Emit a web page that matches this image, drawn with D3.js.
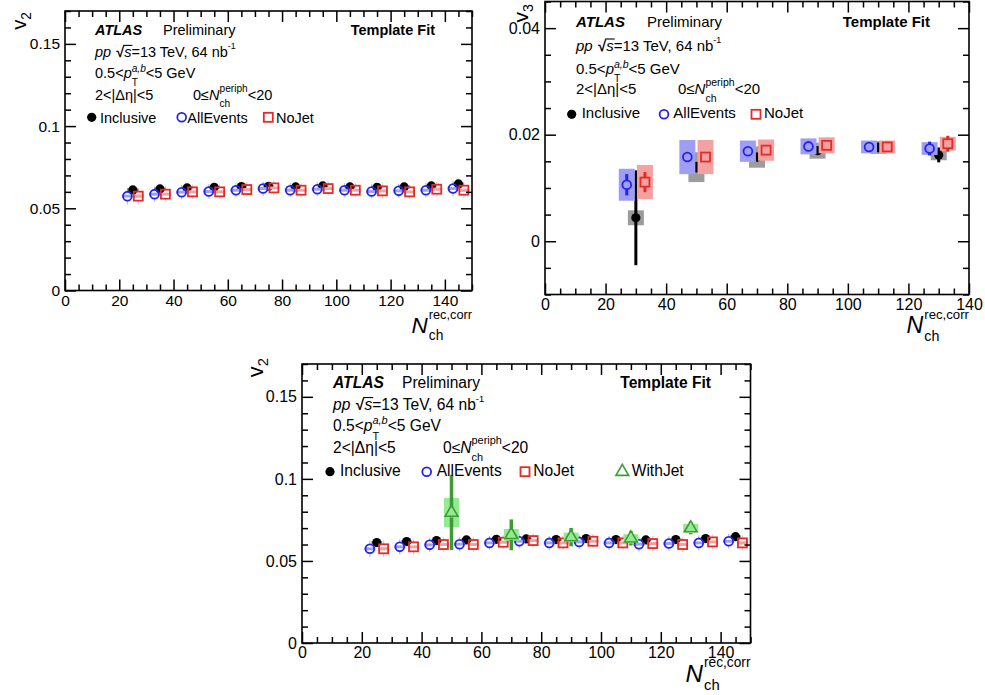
<!DOCTYPE html>
<html>
<head>
<meta charset="utf-8">
<script src="https://cdn.jsdelivr.net/npm/d3@7"></script>
<style>
  body { margin: 0; background: #fff; }
  svg { display: block; }
  text { font-family: "Liberation Sans", Arial, Helvetica, sans-serif; }
</style>
</head>
<body>
<div id="chart"></div>
<script>
// Data ------------------------------------------------------------------------------------------------------------
const nchV2 = [25, 35, 45, 55, 65, 75, 85, 95, 105, 115, 125, 135, 145];
const inclusiveV2 = [0.0612, 0.0618, 0.0624, 0.0628, 0.0632, 0.0634, 0.0630, 0.0636, 0.0630, 0.0628, 0.0630, 0.0636, 0.0648];
const inclusiveV2Stat = [0.0015, 0.0013, 0.0012, 0.0012, 0.0011, 0.0011, 0.0011, 0.0011, 0.0011, 0.0011, 0.0012, 0.0012, 0.0013];
const inclusiveV2Sys = [0.0009, 0.0008, 0.0008, 0.0008, 0.0008, 0.0008, 0.0008, 0.0008, 0.0008, 0.0008, 0.0008, 0.0008, 0.0009];
const allEventsV2 = [0.0574, 0.0586, 0.0598, 0.0602, 0.0610, 0.0620, 0.0610, 0.0616, 0.0610, 0.0602, 0.0606, 0.0610, 0.0620];
const allEventsV2Stat = [0.0050, 0.0046, 0.0044, 0.0044, 0.0043, 0.0043, 0.0043, 0.0043, 0.0043, 0.0044, 0.0044, 0.0045, 0.0046];
const allEventsV2Sys = [0.0009, 0.0009, 0.0009, 0.0009, 0.0009, 0.0009, 0.0009, 0.0009, 0.0009, 0.0009, 0.0009, 0.0009, 0.0009];
const noJetV2 = [0.0574, 0.0586, 0.0600, 0.0600, 0.0614, 0.0624, 0.0610, 0.0620, 0.0610, 0.0606, 0.0600, 0.0616, 0.0610];
const noJetV2Stat = [0.0050, 0.0046, 0.0044, 0.0044, 0.0043, 0.0043, 0.0043, 0.0043, 0.0043, 0.0044, 0.0044, 0.0045, 0.0046];
const noJetV2Sys = [0.0010, 0.0009, 0.0009, 0.0009, 0.0009, 0.0009, 0.0009, 0.0009, 0.0009, 0.0009, 0.0009, 0.0009, 0.0010];

const nchWithJet = [50, 70, 90, 110, 130];
const withJetV2 = [0.0795, 0.0659, 0.0645, 0.0638, 0.0700];
const withJetV2Stat = [0.0229, 0.0094, 0.0056, 0.0044, 0.0038];
const withJetV2Sys = [0.0088, 0.0036, 0.0028, 0.0025, 0.0026];

const nchV3 = [30, 50, 70, 90, 110, 130];
const inclusiveV3 = [0.0044, 0.0139, 0.0158, 0.0170, 0.0176, 0.0162];
const inclusiveV3Stat = [0.0089, 0.0010, 0.0008, 0.0006, 0.0009, 0.0014];
const inclusiveV3Sys = [0.0014, 0.0028, 0.0020, 0.0015, 0.0012, 0.0010];
const allEventsV3 = [0.0106, 0.0158, 0.0169, 0.0178, 0.0177, 0.0174];
const allEventsV3Stat = [0.0020, 0.0004, 0.0004, 0.0003, 0.0003, 0.0013];
const allEventsV3Sys = [0.0030, 0.0032, 0.0020, 0.0015, 0.0012, 0.0012];
const noJetV3 = [0.0111, 0.0158, 0.0171, 0.0180, 0.0177, 0.0183];
const noJetV3Stat = [0.0019, 0.0004, 0.0004, 0.0003, 0.0003, 0.0015];
const noJetV3Sys = [0.0032, 0.0032, 0.0020, 0.0015, 0.0012, 0.0013];

const v2Ticks = [0, 0.05, 0.1, 0.15];
const v3Ticks = [0, 0.02, 0.04];
const nchTicks = [0, 20, 40, 60, 80, 100, 120, 140];

// Styles --------------------------------------------------------------------------------------------------------------
const styles = {
  Inclusive: { color: "#000", box: "#9c9c9c", shape: "dot", shift: 0 },
  AllEvents: { color: "#2323ea", box: "#9e9ef6", shape: "circle", shift: -1 },
  NoJet: { color: "#e62a28", box: "#f3a2a2", shape: "square", shift: 1 },
  WithJet: { color: "#3c9b32", box: "#94ea90", shape: "triangle", shift: 0 }
};
const markerR = { dot: 0, circle: 4.4, square: 4.5, triangle: 5 };

function points(x, y, stat, sys) {
  return x.map((d, i) => ({ x: d, y: y[i], stat: stat[i], sys: sys[i] }));
}

const panels = [
  {
    left: 65, top: 11, right: 472, bottom: 290.5, xMax: 150, yDomain: [0, 0.17], yTicks: v2Ticks, yMinor: 0.01,
    shift: 2, font: 14.5, tickFont: 15.5, boxW: 11, barW: 1.2, barOpacity: 0.3, yName: "2",
    series: [
      ["Inclusive", points(nchV2, inclusiveV2, inclusiveV2Stat, inclusiveV2Sys)],
      ["AllEvents", points(nchV2, allEventsV2, allEventsV2Stat, allEventsV2Sys)],
      ["NoJet", points(nchV2, noJetV2, noJetV2Stat, noJetV2Sys)]
    ],
    atlasX: 95, prelimX: 163, tfRight: 435, periphX: 193, lines: [35, 56.7, 78, 100, 122.7],
    legendMarkY: 117.3, legend: [[91.7, 100], [181.7, 187.3], [268.3, 276]],
    yTitle: [26, 12], xTitleY: 333
  },
  {
    left: 545, top: 1.5, right: 969, bottom: 294.5, xMax: 140, yDomain: [-0.01, 0.045], yTicks: v3Ticks, yMinor: 0.005,
    shift: 3, font: 15, tickFont: 16, boxW: 16, barW: 3, barOpacity: 1, yName: "3",
    series: [
      ["Inclusive", points(nchV3, inclusiveV3, inclusiveV3Stat, inclusiveV3Sys)],
      ["AllEvents", points(nchV3, allEventsV3, allEventsV3Stat, allEventsV3Sys)],
      ["NoJet", points(nchV3, noJetV3, noJetV3Stat, noJetV3Sys)]
    ],
    atlasX: 576, prelimX: 647, tfRight: 930, periphX: 678, lines: [27.3, 50.7, 74, 94, 118.3],
    legendMarkY: 114.3, legend: [[571.7, 581.7], [664, 673.3], [756, 764]],
    yTitle: [528, 4], xTitleY: 333
  },
  {
    left: 302, top: 364, right: 750.5, bottom: 643, xMax: 150, yDomain: [0, 0.17], yTicks: v2Ticks, yMinor: 0.01,
    shift: 2.3, font: 15.6, tickFont: 16, boxW: 11, barW: 1.2, barOpacity: 0.3, yName: "2",
    series: [
      ["Inclusive", points(nchV2, inclusiveV2, inclusiveV2Stat, inclusiveV2Sys)],
      ["AllEvents", points(nchV2, allEventsV2, allEventsV2Stat, allEventsV2Sys)],
      ["NoJet", points(nchV2, noJetV2, noJetV2Stat, noJetV2Sys)],
      ["WithJet", points(nchWithJet, withJetV2, withJetV2Stat, withJetV2Sys)]
    ],
    atlasX: 333, prelimX: 402, tfRight: 711, periphX: 443, lines: [388, 409.7, 431, 453, 476],
    legendMarkY: 471.7, legend: [[330, 340], [426.7, 436.7], [525, 533.3], [622.3, 631.7]],
    yTitle: [263, 358], xTitleY: 682
  }
];

// Canvas --------------------------------------------------------------------------------------------------------------
const svg = d3.select("#chart").append("svg").attr("width", 985).attr("height", 695);
svg.append("rect").attr("width", 985).attr("height", 695).attr("fill", "#fff");

// Text with sub/superscripts: parts are laid out left to right, "stack" parts share x with the next part
function rich(g, x, y, parts, size, anchor) {
  const t = g.append("g");
  let cx = 0, pend = 0;
  parts.forEach(p => {
    const fs = p.fs || (p.sup || p.sub ? size * 0.7 : size);
    const dy = p.dy !== undefined ? p.dy : (p.sup ? -size * 0.42 : p.sub ? size * 0.32 : 0);
    const el = t.append("text").attr("x", cx).attr("y", dy).style("font-size", fs + "px").text(p.t);
    if (p.it) el.style("font-style", "italic");
    if (p.b) el.style("font-weight", "bold");
    const w = el.node().getComputedTextLength();
    if (p.over) {
      t.append("line").attr("x1", cx - 1).attr("x2", cx + w + 1)
        .attr("y1", dy - fs * 0.78).attr("y2", dy - fs * 0.78)
        .attr("stroke", "#000").attr("stroke-width", 1.1);
    }
    if (p.stack) {
      pend = w;
    } else {
      cx += Math.max(w, pend) + (p.gap || 0);
      pend = 0;
    }
  });
  t.attr("transform", "translate(" + (anchor === "end" ? x - cx : x) + "," + y + ")");
  return t;
}

function drawMarker(g, shape, color, cx, cy) {
  if (shape === "dot") {
    g.append("circle").attr("cx", cx).attr("cy", cy).attr("r", 4.6).attr("fill", color);
  } else if (shape === "circle") {
    g.append("circle").attr("cx", cx).attr("cy", cy).attr("r", 4.4)
      .attr("fill", "none").attr("stroke", color).attr("stroke-width", 1.8);
  } else if (shape === "square") {
    g.append("rect").attr("x", cx - 4.5).attr("y", cy - 4.5).attr("width", 9).attr("height", 9)
      .attr("fill", "none").attr("stroke", color).attr("stroke-width", 1.8);
  } else {
    g.append("path").attr("transform", "translate(" + cx + "," + cy + ")")
      .attr("d", d3.symbol(d3.symbolTriangle, 70)())
      .attr("fill", "none").attr("stroke", color).attr("stroke-width", 1.6);
  }
}

panels.forEach(function(p) {
  const g = svg.append("g");
  const x = d3.scaleLinear().domain([0, p.xMax]).range([p.left, p.right]);
  const y = d3.scaleLinear().domain(p.yDomain).range([p.bottom, p.top]);

  // Data points -------------------------------------------------------------------------------------------------------
  const plot = g.append("g");
  p.series.forEach(function([name, data]) {
    const s = styles[name];
    const sg = plot.append("g");
    const px = d => x(d.x + s.shift * p.shift);
    const isJet = name === "WithJet";
    const boxW = isJet ? 15 : p.boxW;
    const barW = isJet ? 3.5 : (name === "Inclusive" && p.barW < 2 ? 1.6 : p.barW);
    const barOp = isJet || name === "Inclusive" ? 1 : p.barOpacity;
    const r = markerR[s.shape];

    sg.selectAll("rect.sys")
      .data(data)
      .enter()
      .append("rect")
      .attr("class", "sys")
      .attr("x", d => px(d) - boxW / 2)
      .attr("y", d => y(d.y + d.sys))
      .attr("width", boxW)
      .attr("height", d => y(d.y - d.sys) - y(d.y + d.sys))
      .attr("fill", s.box);

    // error bars stop at the edge of open markers
    const bars = [];
    data.forEach(d => {
      const cy = y(d.y);
      const top = y(d.y + d.stat), bot = y(d.y - d.stat);
      if (cy - r > top) bars.push({ x: px(d), y1: top, y2: cy - r });
      if (bot > cy + r) bars.push({ x: px(d), y1: cy + r, y2: bot });
    });
    sg.selectAll("line.stat")
      .data(bars)
      .enter()
      .append("line")
      .attr("class", "stat")
      .attr("x1", d => d.x).attr("x2", d => d.x)
      .attr("y1", d => d.y1).attr("y2", d => d.y2)
      .attr("stroke", s.color)
      .attr("stroke-width", barW)
      .attr("opacity", barOp);

    data.forEach(d => drawMarker(sg, s.shape, s.color, px(d), y(d.y)));
  });

  // Axes --------------------------------------------------------------------------------------------------------------
  const xMinor = d3.range(0, p.xMax + 0.001, 5).filter(v => v % 20 !== 0);
  const yMinor = d3.range(p.yDomain[0], p.yDomain[1] + 1e-9, p.yMinor)
    .map(v => +v.toFixed(4))
    .filter(v => !p.yTicks.includes(v));
  const fmt = d => d === 0 ? "0" : d3.format("~g")(d);
  const major = 11, minor = 6;

  const axes = g.append("g");
  axes.append("g").attr("transform", "translate(0," + p.bottom + ")")
    .call(d3.axisBottom(x).tickValues(nchTicks).tickSize(-major).tickSizeOuter(0).tickPadding(4).tickFormat(d3.format("d")));
  axes.append("g").attr("transform", "translate(0," + p.bottom + ")")
    .call(d3.axisBottom(x).tickValues(xMinor).tickSize(-minor).tickSizeOuter(0).tickFormat(""));
  axes.append("g").attr("transform", "translate(0," + p.top + ")")
    .call(d3.axisTop(x).tickValues(nchTicks).tickSize(-major).tickSizeOuter(0).tickFormat(""));
  axes.append("g").attr("transform", "translate(0," + p.top + ")")
    .call(d3.axisTop(x).tickValues(xMinor).tickSize(-minor).tickSizeOuter(0).tickFormat(""));
  axes.append("g").attr("transform", "translate(" + p.left + ",0)")
    .call(d3.axisLeft(y).tickValues(p.yTicks).tickSize(-major).tickSizeOuter(0).tickPadding(5).tickFormat(fmt));
  axes.append("g").attr("transform", "translate(" + p.left + ",0)")
    .call(d3.axisLeft(y).tickValues(yMinor).tickSize(-minor).tickSizeOuter(0).tickFormat(""));
  axes.append("g").attr("transform", "translate(" + p.right + ",0)")
    .call(d3.axisRight(y).tickValues(p.yTicks).tickSize(-major).tickSizeOuter(0).tickFormat(""));
  axes.append("g").attr("transform", "translate(" + p.right + ",0)")
    .call(d3.axisRight(y).tickValues(yMinor).tickSize(-minor).tickSizeOuter(0).tickFormat(""));
  axes.selectAll(".domain").remove();
  axes.selectAll("line").attr("stroke", "#000").attr("stroke-width", 1.5);
  axes.selectAll("text")
    .attr("fill", "#000")
    .style("font-family", "'Liberation Sans', Arial, sans-serif")
    .style("font-size", p.tickFont + "px");

  g.append("rect")
    .attr("x", p.left).attr("y", p.top)
    .attr("width", p.right - p.left).attr("height", p.bottom - p.top)
    .attr("fill", "none").attr("stroke", "#000").attr("stroke-width", 1.6);

  // Axis titles -------------------------------------------------------------------------------------------------------
  rich(g, p.right, p.xTitleY, [
    { t: "N", it: true, fs: p.font * 1.55, gap: 1 },
    { t: "rec,corr", fs: p.font * 0.88, dy: -p.font * 0.95, stack: true },
    { t: "ch", fs: p.font * 0.95, dy: p.font * 0.5 }
  ], p.font, "end");

  const yt = g.append("g").attr("transform", "translate(" + p.yTitle[0] + "," + p.yTitle[1] + ") rotate(-90)");
  rich(yt, 0, 0, [
    { t: "v", fs: p.font * 1.4 },
    { t: p.yName, fs: p.font * 0.95, dy: p.font * 0.35 }
  ], p.font, "end");

  // Labels ------------------------------------------------------------------------------------------------------------
  const f = p.font;
  g.append("text").attr("x", p.atlasX).attr("y", p.lines[0]).text("ATLAS")
    .style("font-size", f + "px").style("font-weight", "bold").style("font-style", "italic");
  g.append("text").attr("x", p.prelimX).attr("y", p.lines[0]).text("Preliminary")
    .style("font-size", f + "px");
  g.append("text").attr("x", p.tfRight).attr("y", p.lines[0]).text("Template Fit")
    .attr("text-anchor", "end").style("font-size", f + "px").style("font-weight", "bold");

  rich(g, p.atlasX, p.lines[1], [
    { t: "pp", it: true, gap: f * 0.35 }, { t: "\u221a", b: true }, { t: "s", it: true, over: true },
    { t: "=13 TeV, 64 nb" }, { t: "-1", sup: true, fs: f * 0.6, dy: -f * 0.5 }
  ], f);
  rich(g, p.atlasX, p.lines[2], [
    { t: "0.5<" }, { t: "p", it: true }, { t: "a,b", it: true, sup: true, stack: true },
    { t: "T", sub: true, dy: f * 0.55 }, { t: "<5 GeV" }
  ], f);
  rich(g, p.atlasX, p.lines[3], [{ t: "2<|\u0394\u03b7|<5" }], f);
  rich(g, p.periphX, p.lines[3], [
    { t: "0\u2264" }, { t: "N", it: true }, { t: "periph", sup: true, stack: true, dy: -f * 0.55 },
    { t: "ch", sub: true, dy: f * 0.5 }, { t: "<20" }
  ], f);

  // Legend --------------------------------------------------------------------------------------------------------------
  p.series.forEach(function([name], i) {
    const s = styles[name];
    const [mx, tx] = p.legend[i];
    drawMarker(g, s.shape, s.color, mx, p.legendMarkY);
    g.append("text").attr("x", tx).attr("y", p.lines[4]).text(name).style("font-size", f + "px");
  });
});
</script>
</body>
</html>
